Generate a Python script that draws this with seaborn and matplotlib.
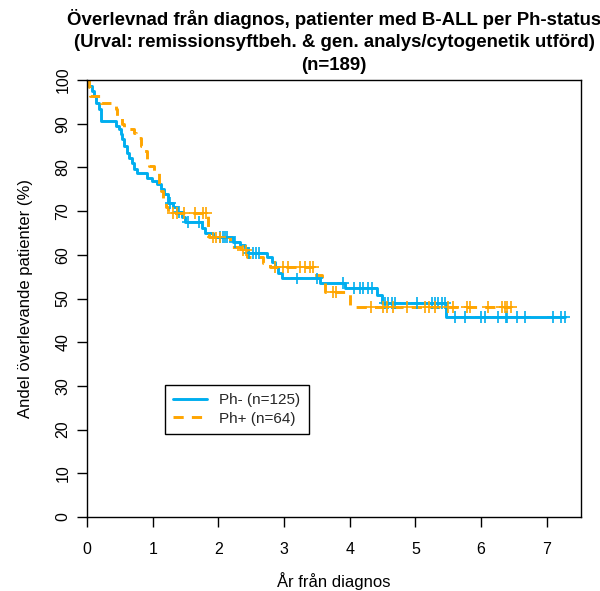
import numpy as np
import pandas as pd
import matplotlib
matplotlib.use("Agg")
import matplotlib.pyplot as plt
import seaborn as sns

# ---------------- data ----------------
groups = ["Ph- (n=125)", "Ph+ (n=64)"]

ph_neg_time = [0.00, 0.03, 0.08, 0.10, 0.13, 0.18, 0.21, 0.44, 0.49, 0.51, 0.53, 0.56,
               0.61, 0.64, 0.69, 0.72, 0.76, 0.91, 0.99, 1.07, 1.12, 1.17, 1.23, 1.31,
               1.37, 1.45, 1.49, 1.75, 1.80, 1.92, 2.22, 2.33, 2.40, 2.45, 2.74, 2.82,
               2.86, 2.91, 2.97, 3.55, 3.93, 4.41, 4.49, 5.47]
ph_neg_surv = [100.0, 98.6, 97.5, 96.3, 94.8, 93.4, 90.6, 89.5, 88.8, 87.6, 86.5, 84.9,
               83.3, 82.2, 81.0, 79.6, 78.7, 77.6, 76.9, 76.2, 75.0, 73.9, 71.8, 70.9,
               69.8, 68.6, 67.5, 66.1, 65.0, 64.1, 62.9, 62.2, 61.5, 60.4, 59.5, 58.4,
               57.2, 55.8, 54.6, 53.6, 52.4, 50.8, 49.0, 45.7]
ph_neg_cens = [1.27, 1.40, 1.54, 1.70, 2.02, 2.07, 2.10, 2.13, 2.25, 2.47, 2.52, 2.58,
               2.62, 3.20, 3.50, 3.90, 4.07, 4.16, 4.20, 4.28, 4.34, 4.54, 4.58, 4.64,
               4.69, 5.02, 5.25, 5.30, 5.34, 5.40, 5.45, 5.60, 5.75, 6.00, 6.06, 6.26,
               6.38, 6.39, 6.54, 6.67, 7.09, 7.22, 7.27]

ph_pos_time = [0.00, 0.03, 0.05, 0.21, 0.44, 0.46, 0.53, 0.56, 0.72, 0.74, 0.82, 0.84,
               0.91, 0.94, 1.02, 1.10, 1.12, 1.16, 1.21, 1.23, 1.84, 1.86, 2.18, 2.35,
               2.43, 2.68, 2.78, 3.46, 3.58, 3.60, 3.62, 4.00]
ph_pos_surv = [100.0, 98.4, 96.3, 94.8, 93.4, 91.8, 90.0, 88.8, 87.9, 86.7, 84.9, 83.7,
               81.9, 80.3, 78.7, 76.2, 74.6, 71.8, 71.0, 69.5, 66.1, 64.0, 61.8, 61.0,
               59.5, 58.1, 57.2, 55.4, 54.7, 53.5, 51.5, 48.1]
ph_pos_cens = [1.31, 1.37, 1.48, 1.64, 1.76, 1.81, 1.92, 1.96, 2.02, 2.37, 2.42, 2.86,
               2.98, 3.06, 3.24, 3.32, 3.39, 3.44, 3.74, 3.79, 4.33, 4.51, 4.57, 4.66,
               4.87, 5.14, 5.21, 5.30, 5.49, 5.57, 5.78, 5.83, 6.10, 6.32, 6.36, 6.39,
               6.45]

x_ticks = [0, 1, 2, 3, 4, 5, 6, 7]
y_ticks = [0, 10, 20, 30, 40, 50, 60, 70, 80, 90, 100]

title_text = ("Överlevnad från diagnos, patienter med B-ALL per Ph-status\n"
              "(Urval: remissionsyftbeh. & gen. analys/cytogenetik utförd)\n"
              "(n=189)")
x_label = "År från diagnos"
y_label = "Andel överlevande patienter (%)"

colors = {groups[0]: "#00AEEF", groups[1]: "#FFA500"}

# ---------------- build tables ----------------
series = {groups[0]: (ph_neg_time, ph_neg_surv, ph_neg_cens),
          groups[1]: (ph_pos_time, ph_pos_surv, ph_pos_cens)}

line_rows, cens_rows = [], []
for g, (tt, ss, cc) in series.items():
    t_all = list(tt) + [max(cc)]
    s_all = list(ss) + [ss[-1]]
    for a, b in zip(t_all, s_all):
        line_rows.append({"t": a, "s": b, "group": g})
    idx = np.searchsorted(np.asarray(tt), np.asarray(cc), side="right") - 1
    for c, i in zip(cc, idx):
        cens_rows.append({"t": c, "s": ss[i], "group": g})
line_df = pd.DataFrame(line_rows)
cens_df = pd.DataFrame(cens_rows)

# ---------------- plot ----------------
sns.set_theme(style="ticks")
plt.rcParams["font.family"] = ["Liberation Sans", "DejaVu Sans"]

fig = plt.figure(figsize=(6.0, 5.91), dpi=100)
ax = fig.add_axes([87 / 600, (591 - 517) / 591, (581 - 87) / 600, (517 - 80) / 591])

sns.lineplot(data=line_df, x="t", y="s", hue="group", style="group",
             hue_order=groups, style_order=groups, palette=colors,
             dashes={groups[0]: "", groups[1]: (3.5, 2.8)},
             drawstyle="steps-post", estimator=None, sort=False,
             linewidth=2.1, ax=ax)
sns.scatterplot(data=cens_df, x="t", y="s", hue="group", hue_order=groups,
                palette=colors, marker="+", s=70, linewidth=1.2,
                legend=False, ax=ax, zorder=3)

ax.set_xlim(0, 7.52)
ax.set_ylim(0, 100)
ax.set_xticks(x_ticks)
ax.set_yticks(y_ticks)
ax.set_xticklabels([str(v) for v in x_ticks], fontsize=11.5)
ax.set_yticklabels([str(v) for v in y_ticks], fontsize=11.5, rotation=90, va="center")
ax.tick_params(axis="both", direction="out", length=7, width=1, color="black",
               labelcolor="black")
ax.tick_params(axis="x", pad=11)
ax.tick_params(axis="y", pad=5)
for sp in ax.spines.values():
    sp.set_visible(True)
    sp.set_color("black")
    sp.set_linewidth(1.0)

ax.set_xlabel(x_label, fontsize=12, labelpad=10.5, color="black")
ax.set_ylabel(y_label, fontsize=12, labelpad=16, color="black")
ax.set_title(title_text, fontsize=13.4, fontweight="bold", linespacing=1.4,
             pad=7.5, color="black")

handles, labels = ax.get_legend_handles_labels()
leg = ax.legend(handles=handles, labels=labels, loc="upper left",
                bbox_to_anchor=(0.158, 0.303), borderaxespad=0, fontsize=11,
                frameon=True, fancybox=False, framealpha=1, edgecolor="black",
                handlelength=2.2, borderpad=0.55, labelspacing=0.3,
                handletextpad=0.8)
leg.get_frame().set_linewidth(1.0)

fig.savefig("out.png", dpi=100)
